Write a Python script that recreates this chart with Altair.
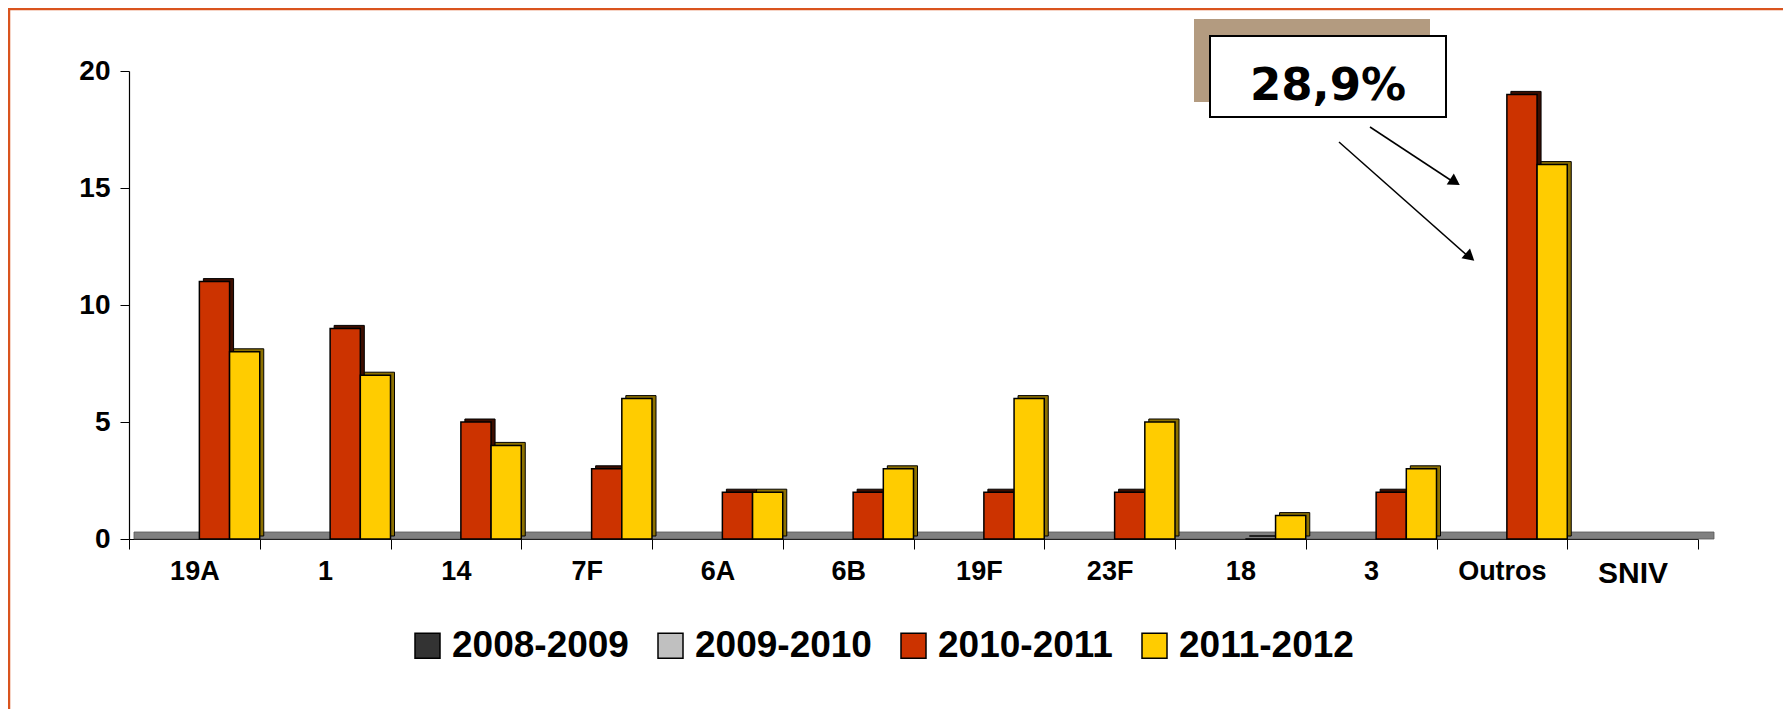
import altair as alt
import pandas as pd

categories = ["19A", "1", "14", "7F", "6A", "6B", "19F", "23F", "18", "3", "Outros", "SNIV"]
series = ["2008-2009", "2009-2010", "2010-2011", "2011-2012"]
v_2008_2009 = [None, None, None, None, None, None, None, None, None, None, None, None]
v_2009_2010 = [None, None, None, None, None, None, None, None, None, None, None, None]
v_2010_2011 = [11, 9, 5, 3, 2, 2, 2, 2, 0, 2, 19, None]
v_2011_2012 = [8, 7, 4, 6, 2, 3, 6, 5, 1, 3, 16, None]
front_colors = ["#333333", "#c0c0c0", "#cc3300", "#ffcc00"]
side_colors = ["#111111", "#7a7a7a", "#3d0e00", "#8c7000"]
annotation_text = "28,9%"

rows = []
for s, vals in zip(series, [v_2008_2009, v_2009_2010, v_2010_2011, v_2011_2012]):
    for c, v in zip(categories, vals):
        if v is not None:
            rows.append({"cat": c, "series": s, "value": v})
df = pd.DataFrame(rows)
one = pd.DataFrame({"a": [0]})

W, H = 1569, 468
BAND = W / len(categories)
FONT = "Liberation Sans"

x_enc = alt.X(
    "cat:N", sort=categories,
    scale=alt.Scale(domain=categories, paddingInner=0, paddingOuter=0),
    axis=alt.Axis(
        title=None, labelAngle=0, labelFont=FONT, labelFontWeight="bold",
        labelFontSize={"condition": {"test": "datum.value == 'SNIV'", "value": 30}, "value": 27},
        labelColor="black", tickBand="extent", tickSize=10, tickColor="black",
        labelPadding=9, domainColor="black", domainWidth=1.2, grid=False,
    ),
)
y_enc = alt.Y(
    "value:Q",
    scale=alt.Scale(domain=[0, 20], nice=False),
    axis=alt.Axis(
        title=None, values=[0, 5, 10, 15, 20], labelFont=FONT, labelFontWeight="bold",
        labelFontSize=28, labelColor="black", tickSize=9, tickColor="black",
        labelPadding=10, domainColor="black", domainWidth=1.2, grid=False,
    ),
)

border = alt.Chart(one).mark_rect(filled=False, stroke="#d9541e", strokeWidth=2.5).encode(
    x=alt.value(-120), x2=alt.value(W + 300), y=alt.value(-62), y2=alt.value(H + 400)
)

floor = alt.Chart(one).mark_rect(color="#808080", stroke="#555555", strokeWidth=0.8, yOffset=-7).encode(
    x=alt.value(5), x2=alt.value(W + 16), y=alt.datum(0), y2=alt.datum(0)
)

shadow = alt.Chart(df).mark_bar(yOffset=-3, y2Offset=-3, stroke="black", strokeWidth=1).encode(
    x=x_enc,
    xOffset=alt.XOffset(
        "series:N", sort=series,
        scale=alt.Scale(domain=series, range=[14, BAND + 4], paddingInner=0, paddingOuter=0),
    ),
    y=y_enc,
    fill=alt.Fill("series:N", scale=alt.Scale(domain=series, range=side_colors), legend=None),
)

front = alt.Chart(df).mark_bar(stroke="black", strokeWidth=1.5).encode(
    x=x_enc,
    xOffset=alt.XOffset(
        "series:N", sort=series,
        scale=alt.Scale(domain=series, range=[10, BAND], paddingInner=0, paddingOuter=0),
    ),
    y=y_enc,
    color=alt.Color(
        "series:N", sort=series,
        scale=alt.Scale(domain=series, range=front_colors),
        legend=alt.Legend(
            title=None, orient="none", legendX=280, legendY=556, direction="horizontal",
            symbolType="square", symbolSize=625, symbolStrokeColor="black",
            symbolStrokeWidth=1.5, labelFont=FONT, labelFontWeight="bold",
            labelFontSize=37, labelColor="black", labelOffset=6, columnPadding=23,
            labelLimit=0, symbolOpacity=1,
        ),
    ),
)

box_shadow = alt.Chart(one).mark_rect(color="#b39b80").encode(
    x=alt.value(1065), x2=alt.value(1301), y=alt.value(-52), y2=alt.value(31)
)
box = alt.Chart(one).mark_rect(fill="white", stroke="black", strokeWidth=2).encode(
    x=alt.value(1081), x2=alt.value(1317), y=alt.value(-35), y2=alt.value(46)
)
box_text = alt.Chart(one).mark_text(
    text=annotation_text, font="DejaVu Sans", fontWeight="bold", fontSize=45,
    align="center", baseline="alphabetic", color="black",
).encode(x=alt.value(1199), y=alt.value(29))

arrow1 = alt.Chart(one).mark_rule(color="black", strokeWidth=1.5).encode(
    x=alt.value(1241), y=alt.value(56), x2=alt.value(1326), y2=alt.value(112)
)
arrow2 = alt.Chart(one).mark_rule(color="black", strokeWidth=1.5).encode(
    x=alt.value(1210), y=alt.value(71), x2=alt.value(1341), y2=alt.value(187)
)
head1 = alt.Chart(one).mark_point(shape="triangle-up", filled=True, color="black", size=170, angle=123, opacity=1).encode(
    x=alt.value(1326), y=alt.value(111)
)
head2 = alt.Chart(one).mark_point(shape="triangle-up", filled=True, color="black", size=170, angle=131, opacity=1).encode(
    x=alt.value(1341), y=alt.value(186)
)

chart = alt.layer(
    border, floor, shadow, front, box_shadow, box, box_text, arrow1, arrow2, head1, head2
).resolve_scale(color="independent", fill="independent", xOffset="independent").properties(
    width=W, height=H,
    padding={"left": 121, "top": 63, "right": 85, "bottom": 170},
    autosize=alt.AutoSizeParams(type="none"),
    background="white",
).configure_view(stroke=None)

chart.save("out.html", embed_options={"renderer": "svg", "actions": False})
